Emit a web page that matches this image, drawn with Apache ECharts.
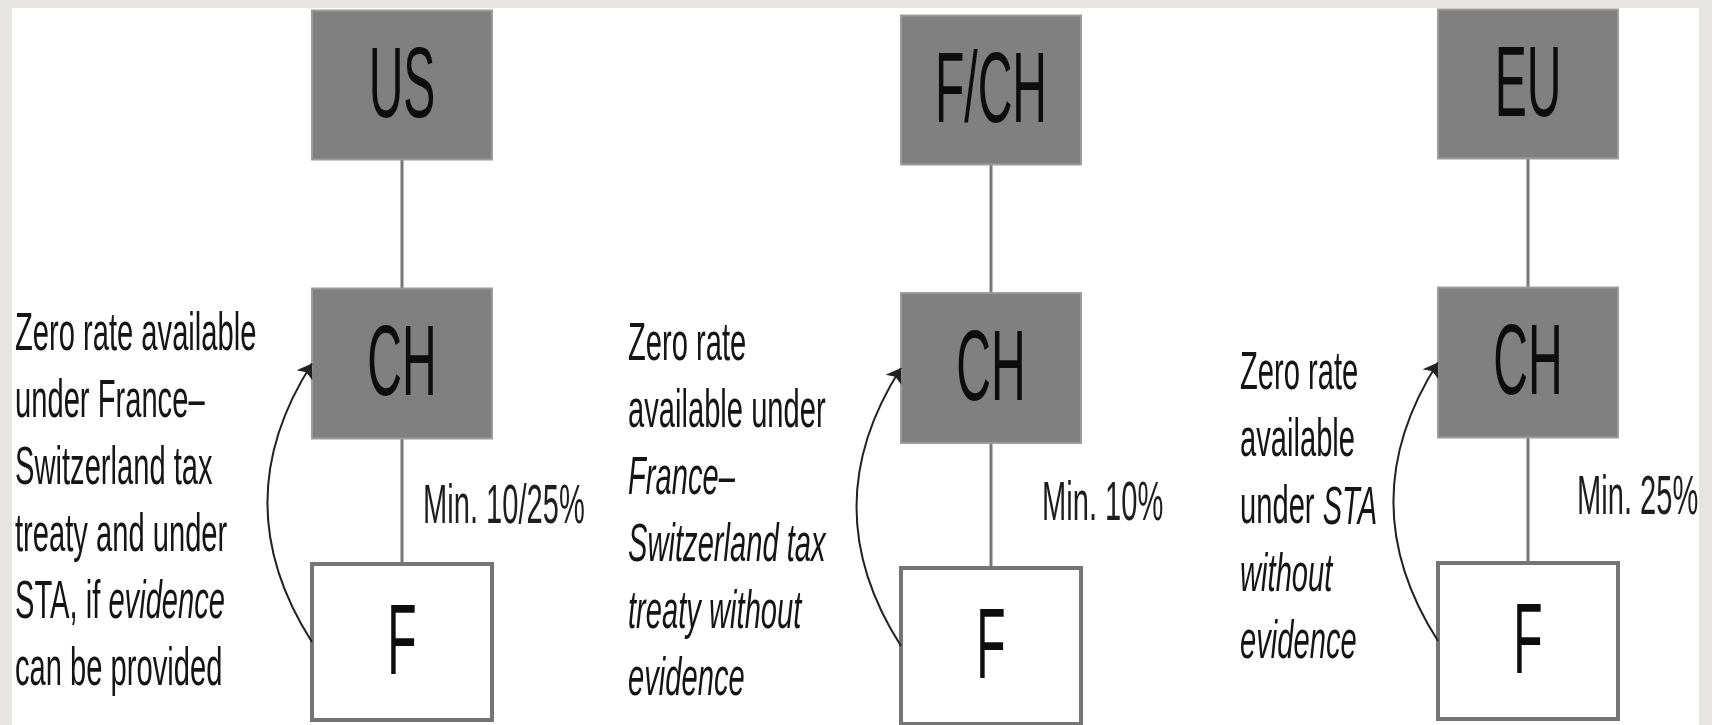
<!DOCTYPE html>
<html>
<head>
<meta charset="utf-8">
<title>Zero rate diagram</title>
<script src="https://cdn.jsdelivr.net/npm/echarts@6/dist/echarts.min.js"></script>
<style>
html,body{margin:0;padding:0;background:#e7e5e3;}
#panel{position:absolute;left:12px;top:8px;width:1687px;height:717px;background:#fff;}
#chart{position:absolute;left:0;top:0;width:1712px;height:725px;}
</style>
</head>
<body>
<div id="panel"></div>
<div id="chart"></div>
<script>
// three columns: parent / CH / F
var topNames = ['US', 'F/CH', 'EU'];
var midNames = ['CH', 'CH', 'CH'];
var baseNames = ['F', 'F', 'F'];
var minRates = ['Min. 10/25%', 'Min. 10%', 'Min. 25%'];
var levels = [0, 1, 2]; // 0 = F, 1 = CH, 2 = parent
// note lines, *...* is italic
var notes1 = ['Zero rate available', 'under France\u2013', 'Switzerland tax', 'treaty and under', 'STA, if *evidence*', 'can be provided'];
var notes2 = ['Zero rate', 'available under', '*France\u2013*', '*Switzerland tax*', '*treaty without*', '*evidence*'];
var notes3 = ['Zero rate', 'available', 'under *STA*', '*without*', '*evidence*'];
var notes = [notes1, notes2, notes3];

var font = "'Liberation Sans', Arial, Helvetica, sans-serif";

// layout of each column (px)
var grids = [
	{left: 312, top: 85, width: 180, height: 557},
	{left: 901, top: 90, width: 180, height: 556},
	{left: 1438, top: 84, width: 180, height: 557}
];
var boxHeights = [156, 150, 149];
var noteLeft = [-297, -273, -198];   // from box left edge
var noteShift = [0, 6, 7];
var rateLeft = [21, 51, 49];         // from box centre
var rateUp = [134, 141, 142];        // above F centre
var lineGap = 67;

function toRich(line) {
	var parts = line.split('*'), s = '';
	for (var i = 0; i < parts.length; i++) {
		if (parts[i] === '') continue;
		s += '{' + (i % 2 ? 'i' : 'n') + '|' + parts[i] + '}';
	}
	return s;
}

function boxItem(col) {
	return function (params, api) {
		var level = api.value(1);
		var c = api.coord([0.5, level]);
		var w = api.size([1, 0])[0];
		var h = boxHeights[level];
		var name = [baseNames, midNames, topNames][level][col];
		var rectStyle = level > 0
			? {fill: '#808080', stroke: '#9c9c9c', lineWidth: 2}
			: {fill: '#fff', stroke: '#757575', lineWidth: 4};
		return {
			type: 'group',
			children: [
				{type: 'rect', shape: {x: c[0] - w / 2, y: c[1] - h / 2, width: w, height: h}, style: rectStyle},
				{type: 'text', x: c[0], y: c[1] + 4, scaleX: 0.48,
					style: {text: name, fontSize: 100, fontFamily: font, fill: '#0d0d0d',
						textAlign: 'center', textVerticalAlign: 'middle'}}
			]
		};
	};
}

function labelItem(col) {
	return function (params, api) {
		var f = api.coord([0, 0]);
		var ch = api.coord([0, 1]);
		var w = api.size([1, 0])[0];
		var lines = notes[col];
		var mid = (f[1] + ch[1]) / 2 + noteShift[col];
		var children = [];
		for (var i = 0; i < lines.length; i++) {
			children.push({
				type: 'text',
				x: f[0] + noteLeft[col],
				y: mid + (i - (lines.length - 1) / 2) * lineGap,
				scaleX: 0.55,
				style: {
					text: toRich(lines[i]), fill: '#151515',
					fontSize: 53, fontFamily: font,
					textAlign: 'left', textVerticalAlign: 'middle',
					rich: {
						n: {fontSize: 53, fontFamily: font, fontStyle: 'normal'},
						i: {fontSize: 53, fontFamily: font, fontStyle: 'italic'}
					}
				}
			});
		}
		children.push({
			type: 'text',
			x: f[0] + w / 2 + rateLeft[col],
			y: f[1] - rateUp[col],
			scaleX: 0.52,
			style: {text: minRates[col], fill: '#1e1e1e', fontSize: 56, fontFamily: font,
				textAlign: 'left', textVerticalAlign: 'middle'}
		});
		return {type: 'group', children: children};
	};
}

var myChart = echarts.init(document.getElementById('chart'));
var opts = {
	animation: false,
	grid: [],
	xAxis: [],
	yAxis: [],
	series: []
};
for (var k = 0; k < 3; k++) {
	opts.grid.push(grids[k]);
	opts.xAxis.push({type: 'value', gridIndex: k, min: 0, max: 1, show: false});
	opts.yAxis.push({type: 'value', gridIndex: k, min: 0, max: 2, show: false});
	// vertical connector
	opts.series.push({
		type: 'line', xAxisIndex: k, yAxisIndex: k, z: 1, silent: true,
		symbol: 'none',
		lineStyle: {color: '#777', width: 3},
		data: levels.map(function (l) { return [0.5, l]; })
	});
	// boxes
	opts.series.push({
		type: 'custom', xAxisIndex: k, yAxisIndex: k, z: 3, silent: true,
		renderItem: boxItem(k),
		encode: {x: 0, y: 1},
		data: levels.map(function (l) { return [0.5, l]; })
	});
	// curved arrow F -> CH
	opts.series.push({
		type: 'lines', coordinateSystem: 'cartesian2d', xAxisIndex: k, yAxisIndex: k,
		z: 4, silent: true, clip: false,
		symbol: ['none', 'arrow'], symbolSize: 14,
		lineStyle: {color: '#222', width: 2, curveness: 0.32, opacity: 1},
		data: [{coords: [[0, levels[0]], [0, levels[1]]]}]
	});
	// notes and min. rate
	opts.series.push({
		type: 'custom', xAxisIndex: k, yAxisIndex: k, z: 5, silent: true,
		renderItem: labelItem(k),
		encode: {x: 0, y: 1},
		data: [[0, 0.5]]
	});
}
myChart.setOption(opts);
</script>
</body>
</html>
